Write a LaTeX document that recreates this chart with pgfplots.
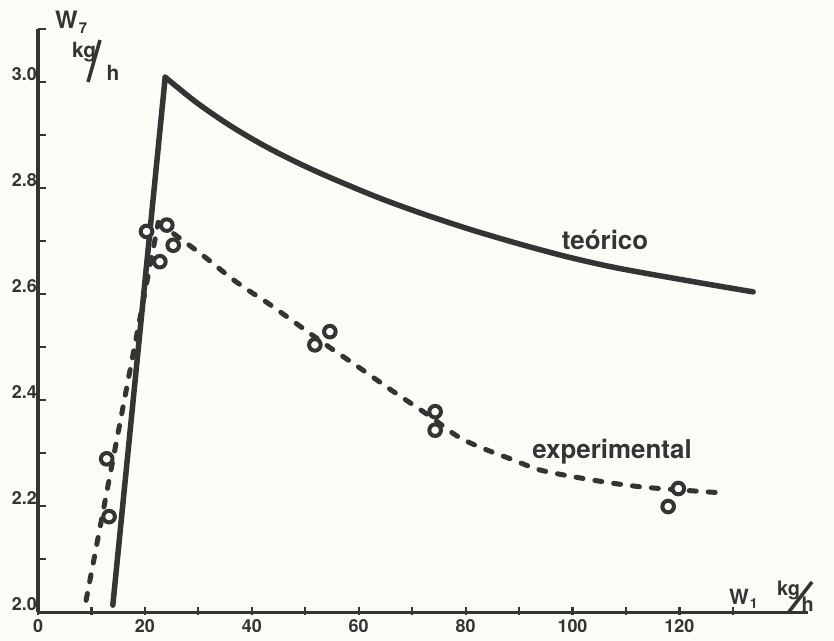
\documentclass[border=0pt]{standalone}
\usepackage{fontspec}
\setmainfont{TeX Gyre Heros}
\usepackage{pgfplots}
\pgfplotsset{compat=1.18}
\definecolor{paper}{RGB}{252,251,245}
\definecolor{ink}{RGB}{52,52,52}
\begin{document}
\begin{tikzpicture}
\fill[paper] (0,0) rectangle (834bp,-641bp);
\useasboundingbox (0,0) rectangle (834bp,-641bp);
\begin{axis}[
  at={(38bp,-612bp)}, anchor=south west,
  x=5.345bp, y=530bp,
  xmin=0, xmax=144, ymin=2.0, ymax=3.1,
  clip=false,
  axis x line*=bottom, axis y line*=left,
  axis line style={ink, line width=3bp, -},
  xtick={0,20,40,60,80,100,120},
  minor xtick={10,30,50,70,90,110,130},
  ytick={2.0,2.2,2.4,2.6,2.8,3.0},
  minor ytick={2.1,2.3,2.5,2.7,2.9,3.1},
  tick align=inside,
  major tick length=8bp, minor tick length=8bp,
  tick style={ink, line width=2.2bp},
  every x tick/.append style={yshift=-3bp},
  /pgf/number format/assume math mode=true,
  xticklabel style={font=\bfseries\fontsize{18}{18}\selectfont, text=ink, yshift=-4bp},
  yticklabel style={font=\bfseries\fontsize{18}{18}\selectfont, text=ink, anchor=base east, inner sep=0pt, xshift=-1bp, yshift=2bp,
    /pgf/number format/.cd, fixed, fixed zerofill, precision=1, /tikz/.cd},
]
% teorico
\addplot[ink, line width=5.5bp, line cap=round] coordinates {(14.0,2.013) (23.8,3.009)};
\addplot[ink, line width=5.5bp, smooth, line cap=round, line join=round] coordinates {
 (23.8,3.009) (29.7,2.961) (35.9,2.918) (42.1,2.881) (48.5,2.848) (54.6,2.820)
 (63.4,2.783) (71.5,2.753) (80.8,2.722) (90.2,2.694) (99.5,2.669) (108.9,2.648)
 (123.9,2.621) (133.8,2.604)};
% experimental
\addplot[ink, line width=5bp, dash pattern=on 7bp off 12bp, line cap=round] coordinates {(9.0,2.022) (22.5,2.735)};
\addplot[ink, line width=5bp, dash pattern=on 7bp off 12bp, line cap=round, smooth] coordinates {
 (22.5,2.735) (30.3,2.677) (37.2,2.622) (43.4,2.580) (49.6,2.535) (54.6,2.499)
 (59.7,2.464) (65.9,2.420) (72.8,2.373) (78.4,2.332) (82.7,2.311) (88.9,2.287)
 (93.9,2.268) (101.4,2.253) (108.9,2.241) (115.1,2.234) (127.6,2.225)};
\addplot[only marks, mark=*, mark size=5.8bp, mark options={draw=ink, fill=paper, line width=4bp, solid}] coordinates {
 (12.85,2.289) (13.3,2.180) (20.3,2.718) (24.1,2.730) (25.3,2.692) (22.8,2.661)
 (51.8,2.504) (54.6,2.529) (74.3,2.378) (74.3,2.343) (117.9,2.199) (119.8,2.233)};
\node[font=\bfseries\fontsize{26}{26}\selectfont, text=ink] at (axis cs:106.1,2.702) {teórico};
\node[font=\bfseries\fontsize{26}{26}\selectfont, text=ink] at (axis cs:107.4,2.302) {experimental};
\end{axis}
% axis titles
\node[inner sep=0pt, anchor=base west, font=\bfseries\fontsize{24}{24}\selectfont, text=ink] at (55bp,-28bp) {W\kern1bp\raisebox{-5bp}{\fontsize{15}{15}\selectfont 7}};
\node[inner sep=0pt, anchor=west, font=\bfseries\fontsize{21}{21}\selectfont, text=ink] at (72bp,-52bp) {kg};
\draw[ink, line width=3.5bp] (100bp,-40bp) -- (88bp,-82bp);
\node[inner sep=0pt, anchor=west, font=\bfseries\fontsize{21}{21}\selectfont, text=ink] at (106.5bp,-72.5bp) {h};
\node[inner sep=0pt, anchor=base west, font=\bfseries\fontsize{21}{21}\selectfont, text=ink] at (729bp,-604bp) {W\kern1bp\raisebox{-4bp}{\fontsize{14}{14}\selectfont 1}};
\node[inner sep=0pt, anchor=west, font=\bfseries\fontsize{20}{20}\selectfont, text=ink] at (777bp,-590bp) {kg};
\draw[ink, line width=3.5bp] (812bp,-582bp) -- (788bp,-613bp);
\node[inner sep=0pt, anchor=west, font=\bfseries\fontsize{20}{20}\selectfont, text=ink] at (801.5bp,-604bp) {h};
\end{tikzpicture}
\end{document}
